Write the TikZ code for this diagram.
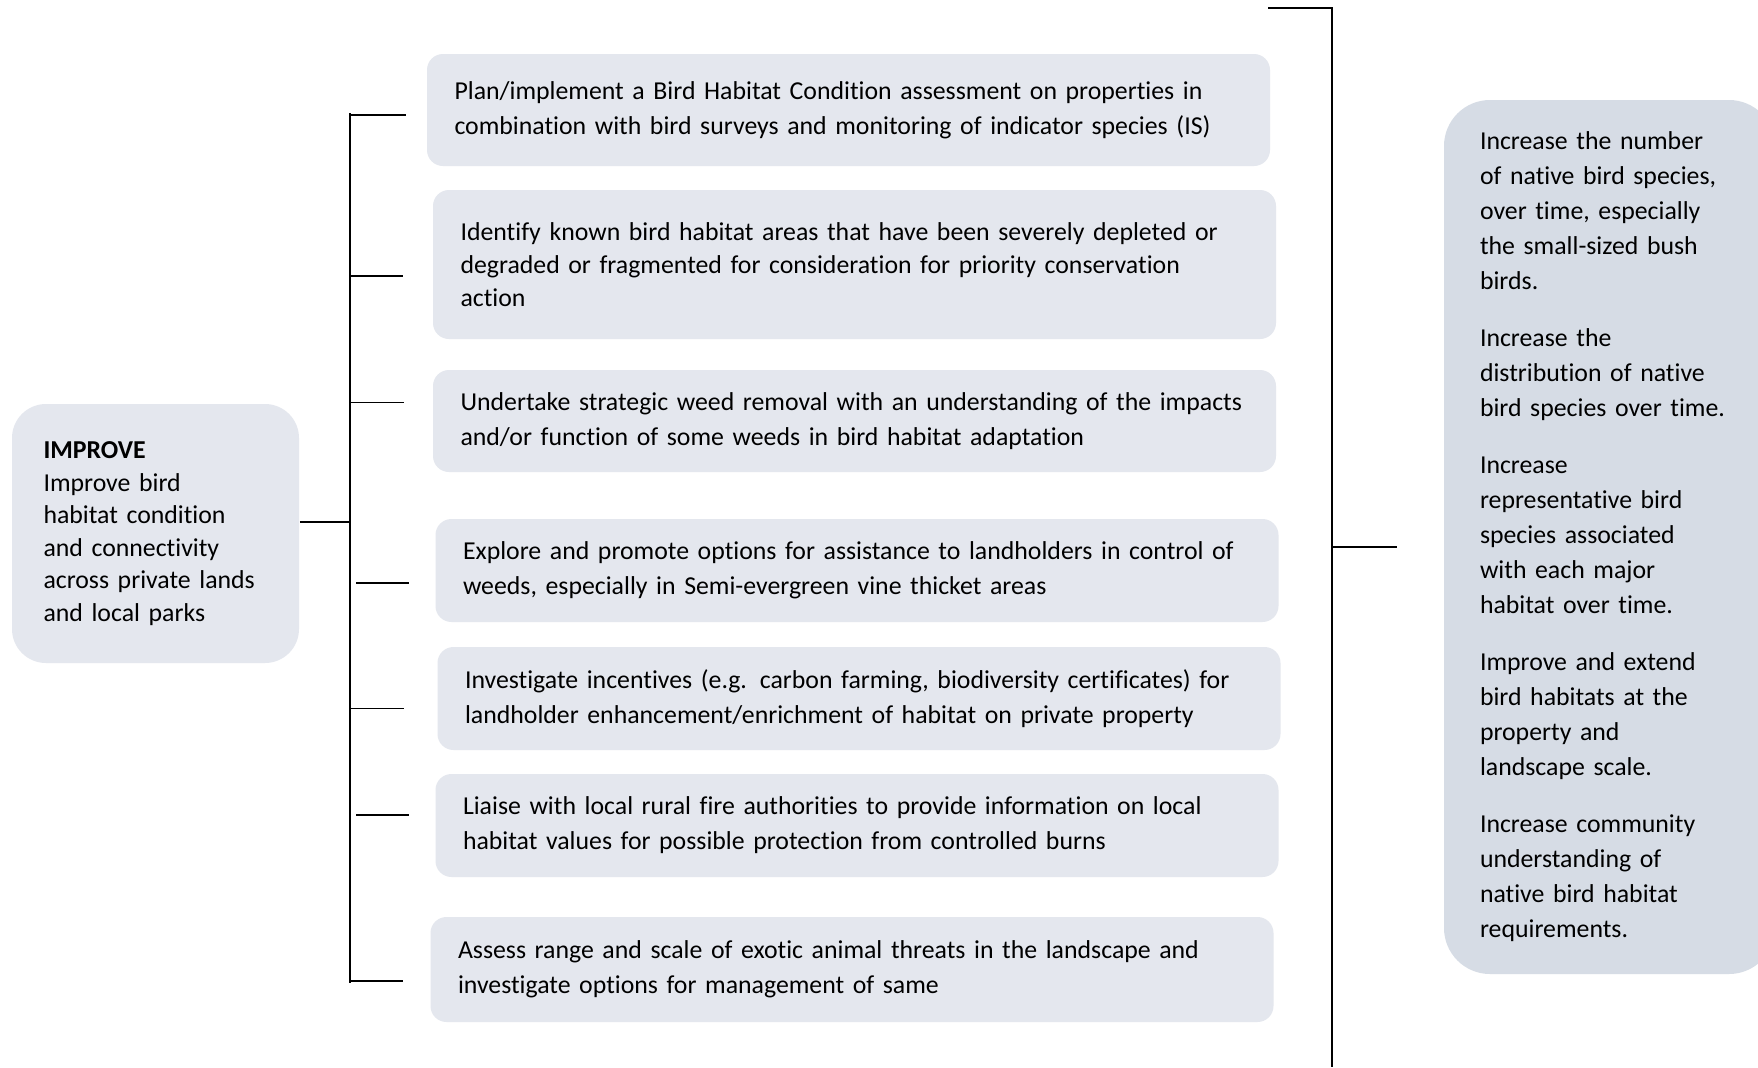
\documentclass[tikz,border=0pt]{standalone}
\usepackage{fontspec}
\setmainfont{Carlito}[Ligatures=NoCommon]
\usetikzlibrary{positioning}

\begin{document}
\begin{tikzpicture}[x=0.5pt,y=-0.5pt,line width=0.8pt]

\tikzstyle{s1} = [rectangle, rounded corners=17pt, minimum width=143.5pt, minimum height=129.5pt, text width=112pt, align=left, fill={rgb,255:red,228;green,231;blue,238}, font=\fontsize{12.9pt}{16.25pt}\selectfont]

\tikzstyle{s2} = [rectangle, rounded corners=8pt, minimum width=421.5pt, text width=394pt, align=left, fill={rgb,255:red,228;green,231;blue,238}, font=\fontsize{12.9pt}{17.5pt}\selectfont]

\tikzstyle{s3} = [rectangle, rounded corners=23pt, minimum width=165.5pt, minimum height=437pt, text width=129.5pt, align=left, fill={rgb,255:red,214;green,220;blue,229}, font=\fontsize{12.9pt}{17.5pt}\selectfont]

    \useasboundingbox[fill=white] (0,0) rectangle (1758,1067);

    \node [s1] (A) at (155.5,533.5) {\textbf{IMPROVE}\\ Improve bird\\ habitat condition\\ and connectivity\\ across private lands\\ and local parks};

    \node [s2, minimum height=56pt] (B) at (848.5,110) {Plan/implement a Bird Habitat Condition assessment on properties in\\ combination with bird surveys and monitoring of indicator species (IS)};
    \node [s2, minimum height=74.5pt, font=\fontsize{12.9pt}{16.5pt}\selectfont] (C) at (854.5,264.5) {Identify known bird habitat areas that have been severely depleted or\\ degraded or fragmented for consideration for priority conservation\\ action};
    \node [s2, minimum height=51pt] (D) at (854.5,421) {Undertake strategic weed removal with an understanding of the impacts\\ and/or function of some weeds in bird habitat adaptation};
    \node [s2, minimum height=51.5pt] (E) at (857,570.5) {Explore and promote options for assistance to landholders in control of\\ weeds, especially in Semi-evergreen vine thicket areas};
    \node [s2, minimum height=51.5pt] (F) at (859,698.5) {Investigate incentives (e.g. carbon farming, biodiversity certificates) for\\ landholder enhancement/enrichment of habitat on private property};
    \node [s2, minimum height=51.5pt] (G) at (857,825.5) {Liaise with local rural fire authorities to provide information on local\\ habitat values for possible protection from controlled burns};
    \node [s2, minimum height=52.5pt] (H) at (852,969.5) {Assess range and scale of exotic animal threats in the landscape and\\ investigate options for management of same};

    \node [s3] (I) at (1609.5,537) {Increase the number\\ of native bird species,\\ over time, especially\\ the small-sized bush\\ birds.\\[11pt] Increase the\\ distribution of native\\ bird species over time.\\[11pt] Increase\\ representative bird\\ species associated\\ with each major\\ habitat over time.\\[11pt] Improve and extend\\ bird habitats at the\\ property and\\ landscape scale.\\[11pt] Increase community\\ understanding of\\ native bird habitat\\ requirements.};

    % left bracket
    \coordinate (top) at (350,113);
    \coordinate (bot) at (350,983);
    \coordinate (jl) at (350,522);
    \coordinate (t1) at (406,115);
    \coordinate (t2) at (403,276);
    \coordinate (t3) at (404,402.5);
    \coordinate (t4) at (409,583);
    \coordinate (t5) at (404,708.6);
    \coordinate (t6) at (409,815);
    \coordinate (t7) at (403,981);

    \draw (top) -- (bot);
    \draw (A.east |- jl) -- (jl);
    \draw (t1 -| top) -- (t1);
    \draw (t2 -| top) -- (t2);
    \draw (t3 -| top) -- (t3);
    \draw [shorten <=3pt] (t4 -| top) -- (t4);
    \draw (t5 -| top) -- (t5);
    \draw [shorten <=3pt] (t6 -| top) -- (t6);
    \draw (t7 -| top) -- (t7);

    % right bracket
    \coordinate (rtl) at (1268,8);
    \coordinate (rt) at (1332,8);
    \coordinate (rb) at (1332,1067);
    \coordinate (rm) at (1397,547);

    \draw (rtl) -- (rt) -- (rb);
    \draw (rm -| rt) -- (rm);

\end{tikzpicture}
\end{document}
